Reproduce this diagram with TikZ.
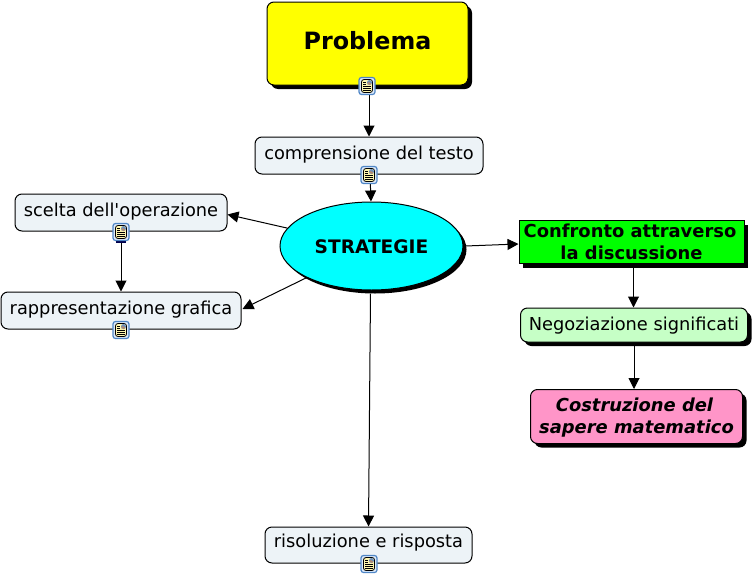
\documentclass[tikz,border=0pt]{standalone}
\usepackage{fontspec}
\setmainfont{DejaVu Sans}
\usetikzlibrary{shapes.geometric,shadows,arrows.meta,calc}
\definecolor{nodebg}{HTML}{EDF3F7}
\definecolor{neggreen}{HTML}{C6FFC6}
\definecolor{pinkbox}{HTML}{FF95C8}
\definecolor{iconblue}{HTML}{4F86C6}
\definecolor{iconfill}{HTML}{DCE9F9}
\definecolor{docfill}{HTML}{FFF7B0}
\definecolor{picblue}{HTML}{6C93C0}
\definecolor{picbrown}{HTML}{B08A70}
\definecolor{pureyellow}{HTML}{FFFF00}
\definecolor{purecyan}{HTML}{00FFFF}
\definecolor{puregreen}{HTML}{00FF00}
\newcommand{\up}[2]{\raisebox{#1pt}[0pt][0pt]{#2}}
\tikzset{
  x=1pt,y=-1pt,
  base/.style={draw=black,line width=1pt,inner sep=0pt,text=black,align=center},
  plainbox/.style={base,rectangle,rounded corners=7pt,fill=nodebg,font=\fontsize{17.8}{21}\selectfont},
  shadowed/.style={drop shadow={shadow xshift=4pt,shadow yshift=-4pt,fill=black,opacity=1}},
  arrowline/.style={draw=black,line width=1pt,-{Triangle[width=11pt,length=11pt]},shorten >=0pt},
  iconbox/.style={draw=iconblue,line width=1.2pt,fill=iconfill,rectangle,rounded corners=2.5pt,
    minimum width=16pt,minimum height=17pt,inner sep=0pt,
    path picture={
      \coordinate (ic) at (path picture bounding box.center);
      \draw[black,line width=0.8pt,fill=docfill] ($(ic)+(-5.5,-6.5)$) rectangle ($(ic)+(5.5,6.5)$);
      \fill[picblue] ($(ic)+(0,-6)$) rectangle ($(ic)+(5,-1)$);
      \fill[picbrown] ($(ic)+(0.5,-2.8)$) -- ($(ic)+(2.5,-4.8)$) -- ($(ic)+(5,-1)$) -- ($(ic)+(0.5,-1)$) -- cycle;
      \foreach \yy in {-3.8,-1.6} \draw[black,line width=0.7pt] ($(ic)+(-4,\yy)$) -- ($(ic)+(-1,\yy)$);
      \foreach \yy in {0.8,2.7,4.6} \draw[black,line width=0.7pt] ($(ic)+(-4,\yy)$) -- ($(ic)+(4,\yy)$);
    }},
}
\begin{document}
\begin{tikzpicture}
\useasboundingbox (0,0) rectangle (753,576);
% main nodes
\node[base,shadowed,rectangle,rounded corners=7pt,fill=pureyellow,minimum width=201pt,minimum height=83pt,
  font=\fontsize{23.8}{28}\bfseries\selectfont] (prob) at (367.5,43.5) {\up{-6}{Problema}};
\node[plainbox,minimum width=228pt,minimum height=37pt] (comp) at (369,155.5) {\up{-3.5}{comprensione del testo}};
\node[plainbox,minimum width=212pt,minimum height=37pt] (scelta) at (121,212.5) {\up{-3.5}{scelta dell\textquotesingle operazione}};
\node[plainbox,minimum width=240pt,minimum height=37pt] (rapp) at (121,310.5) {\up{-3.5}{rappresentazione grafica}};
\node[plainbox,minimum width=207pt,minimum height=36pt] (ris) at (368.5,545) {\up{-2.5}{risoluzione e risposta}};
\node[base,ellipse,fill=purecyan,minimum width=183pt,minimum height=88pt,
  drop shadow={shadow xshift=3.5pt,shadow yshift=-3.5pt,fill=black,opacity=1},
  font=\fontsize{18.6}{22}\bfseries\selectfont] (strat) at (371.5,246) {\up{-7}{STRATEGIE}};
\node[base,shadowed,rectangle,fill=puregreen,minimum width=225pt,minimum height=43pt,
  font=\fontsize{17.9}{22}\bfseries\selectfont] (conf) at (631.5,242) {Confronto attraverso\hspace*{3pt}\\la discussione};
\node[base,shadowed,rectangle,rounded corners=7pt,fill=neggreen,minimum width=227pt,minimum height=34pt,
  font=\fontsize{17.8}{21}\selectfont] (neg) at (634,325) {\up{-5}{Negoziazione significati}};
\node[base,shadowed,rectangle,rounded corners=7pt,fill=pinkbox,minimum width=212pt,minimum height=54pt,
  font=\fontsize{17.9}{22.5}\bfseries\itshape\selectfont] (cos) at (636.5,416.5) {\rule{0pt}{16pt}Costruzione del\hspace*{4pt}\\sapere matematico};
% connectors
\draw[arrowline] (prob.south -| comp.north) -- (comp.north);
\draw[arrowline] ([xshift=1pt]comp.south) -- ([xshift=-0.5pt]strat.north);
\draw[arrowline] (strat.168) -- ([yshift=-2pt]scelta.east);
\draw[arrowline] (strat.206) -- ([xshift=1pt,yshift=1.5pt]rapp.east);
\draw[arrowline] (scelta.south) -- (scelta.south |- rapp.north);
\draw[arrowline] ([xshift=-1pt,yshift=-3pt]strat.south) -- (ris.north);
\draw[arrowline] ([xshift=2pt]strat.east) -- ([yshift=-2pt]conf.west);
\draw[arrowline] ([xshift=2pt]conf.south) -- ([xshift=-0.5pt]neg.north);
\draw[arrowline] (neg.south) -- (neg.south |- cos.north);
% note icons
\fill[black!70!blue] (116,241) rectangle (126,242.5);
\node[iconbox] (iprob) at (367,86) {};
\node[iconbox] (icomp) at (369,175) {};
\node[iconbox] (iscelta) at (121,232) {};
\node[iconbox] (irapp) at (121,330) {};
\node[iconbox] (iris) at (369,564) {};
\end{tikzpicture}
\end{document}
